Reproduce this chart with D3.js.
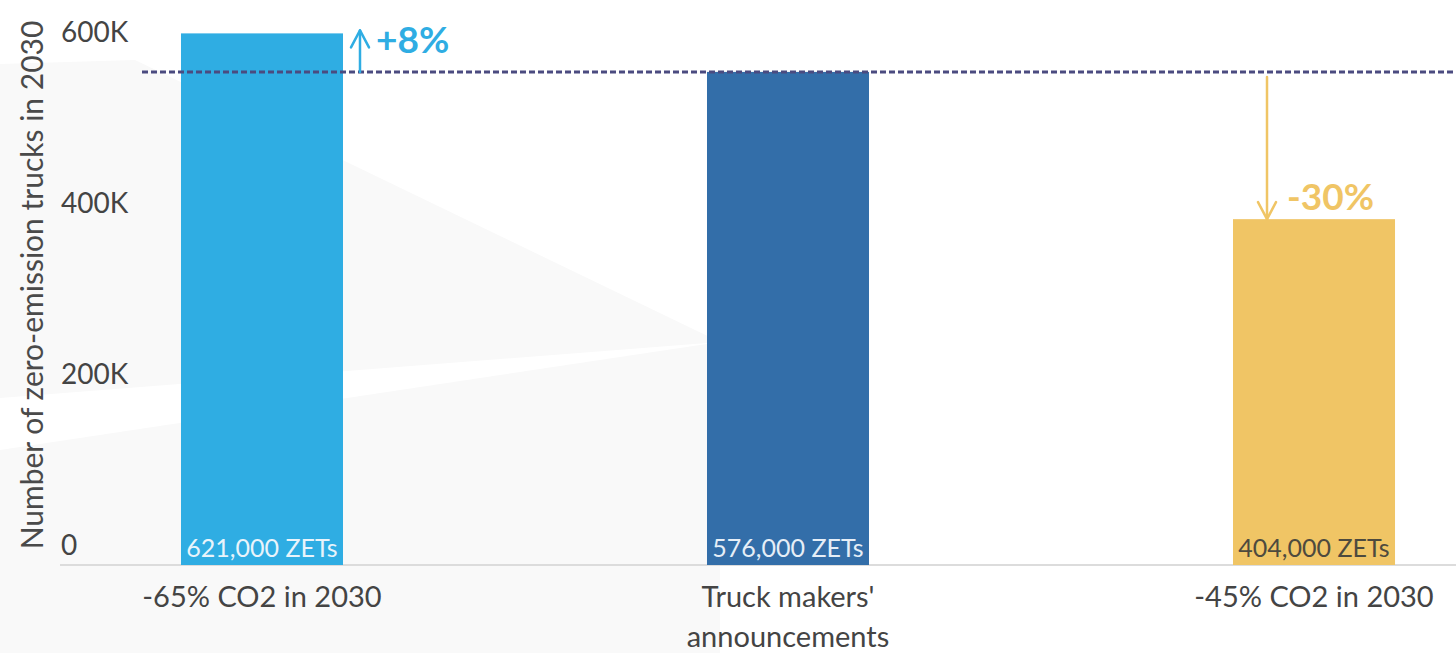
<!DOCTYPE html>
<html>
<head>
<meta charset="utf-8">
<script src="https://cdn.jsdelivr.net/npm/d3@7"></script>
<style>
  html, body { margin: 0; padding: 0; background: #ffffff; }
  svg { display: block; font-family: Lato, "Noto Sans", sans-serif; }
</style>
</head>
<body>
<svg id="chart" width="1456" height="653"></svg>
<script>
// Zero-emission trucks in 2030 under three scenarios
const categories = ["-65% CO2 in 2030", "Truck makers' announcements", "-45% CO2 in 2030"];
const categoryLines = [["-65% CO2 in 2030"], ["Truck makers'", "announcements"], ["-45% CO2 in 2030"]];
const values = [621000, 576000, 404000];
const valueLabels = ["621,000 ZETs", "576,000 ZETs", "404,000 ZETs"];
const barColors = ["#2fade3", "#336ea9", "#f0c565"];
const valueLabelColors = ["#e9f4fb", "#e6eef7", "#4d4a3e"];
const yTicks = [0, 200000, 400000, 600000];
const yTickLabels = ["0", "200K", "400K", "600K"];
const referenceValue = 576000;
const changeLabels = ["+8%", "-30%"];

const svg = d3.select("#chart");
const W = 1456, H = 653;

// faint background shapes
const bg = svg.append("g");
bg.append("path").attr("d", "M0,64 L135,60 L720,342 L0,398 Z").attr("fill", "#f9f9f9");
bg.append("path").attr("d", "M0,450 L720,342 L720,653 L0,653 Z").attr("fill", "#f9f9f9");

const x = d3.scaleBand()
  .domain(categories)
  .range([60, 1516])
  .paddingInner(0.692)
  .paddingOuter(0.23);

const y = d3.scaleLinear()
  .domain([0, 660000])
  .range([565, 0]);

// y axis labels sit above their tick positions
const yAxis = svg.append("g")
  .attr("transform", "translate(61,0)")
  .call(d3.axisRight(y).tickValues(yTicks).tickSize(0)
    .tickFormat((d, i) => yTickLabels[i]));
yAxis.select(".domain").remove();
yAxis.selectAll("text")
  .attr("x", 0)
  .attr("dy", "-0.36em")
  .attr("text-anchor", "start")
  .attr("font-size", 28)
  .attr("font-family", "Lato, sans-serif")
  .attr("fill", "#444");

// y axis title
svg.append("text")
  .attr("transform", `translate(43,${285}) rotate(-90)`)
  .attr("text-anchor", "middle")
  .attr("font-size", 30)
  .attr("fill", "#4a4a4a")
  .text("Number of zero-emission trucks in 2030");

// baseline
svg.append("line")
  .attr("x1", 60).attr("x2", W)
  .attr("y1", y(0)).attr("y2", y(0))
  .attr("stroke", "#dcdcdc").attr("stroke-width", 2);

// bars
svg.append("g").selectAll("rect")
  .data(categories)
  .join("rect")
  .attr("x", d => x(d))
  .attr("width", x.bandwidth())
  .attr("y", (d, i) => y(values[i]))
  .attr("height", (d, i) => y(0) - y(values[i]))
  .attr("fill", (d, i) => barColors[i]);

// value labels inside bar bottoms
svg.append("g").selectAll("text")
  .data(categories)
  .join("text")
  .attr("x", d => x(d) + x.bandwidth() / 2)
  .attr("y", y(0) - 8)
  .attr("text-anchor", "middle")
  .attr("font-size", 25)
  .attr("fill", (d, i) => valueLabelColors[i])
  .text((d, i) => valueLabels[i]);

// category labels
const cat = svg.append("g").selectAll("text")
  .data(categories)
  .join("text")
  .attr("x", d => x(d) + x.bandwidth() / 2)
  .attr("y", 607)
  .attr("text-anchor", "middle")
  .attr("font-size", 29)
  .attr("fill", "#444");
cat.each(function(d, i) {
  d3.select(this).selectAll("tspan")
    .data(categoryLines[i])
    .join("tspan")
    .attr("x", x(d) + x.bandwidth() / 2)
    .attr("dy", (t, j) => j === 0 ? 0 : 40)
    .text(t => t);
});

// reference dashed line
svg.append("line")
  .attr("x1", 142).attr("x2", W)
  .attr("y1", y(referenceValue)).attr("y2", y(referenceValue))
  .attr("stroke", "#4b4b80").attr("stroke-width", 3)
  .attr("stroke-dasharray", "6,3");

// change arrows
function arrow(xPos, yFrom, yTo, color) {
  const dir = yTo < yFrom ? 1 : -1;
  const g = svg.append("g").attr("stroke", color).attr("stroke-width", 2.5)
    .attr("fill", "none").attr("stroke-linecap", "round").attr("stroke-linejoin", "round");
  g.append("line").attr("x1", xPos).attr("x2", xPos).attr("y1", yFrom).attr("y2", yTo);
  g.append("path").attr("d",
    `M${xPos - 9},${yTo + dir * 17} L${xPos},${yTo} L${xPos + 9},${yTo + dir * 17}`);
}

const xUp = x(categories[0]) + x.bandwidth() + 17;
arrow(xUp, y(referenceValue), y(values[0]) - 3, "#2fade3");
svg.append("text")
  .attr("x", xUp + 16).attr("y", y(values[0]) + 20)
  .attr("font-size", 37).attr("font-weight", "bold")
  .attr("fill", "#2fade3")
  .text(changeLabels[0]);

const xDown = x(categories[2]) + 34;
arrow(xDown, y(referenceValue) + 5, y(values[2]), "#f0c565");
svg.append("text")
  .attr("x", xDown + 20).attr("y", y(values[2]) - 9)
  .attr("font-size", 37).attr("font-weight", "bold")
  .attr("fill", "#f0c565")
  .text(changeLabels[1]);
</script>
</body>
</html>
